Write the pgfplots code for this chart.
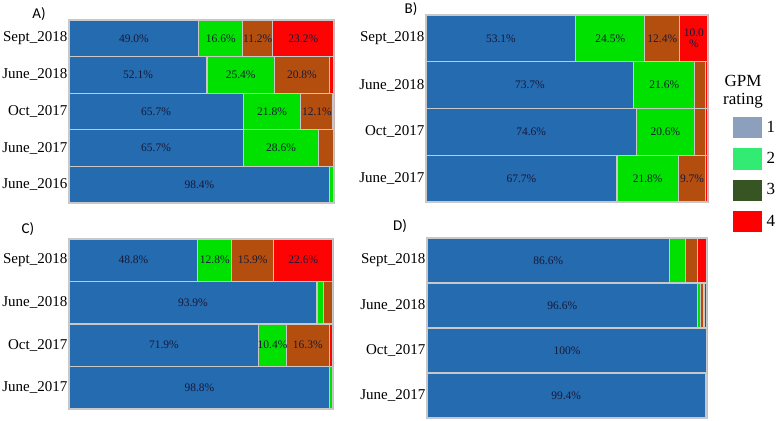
\documentclass[border=0pt]{standalone}
\usepackage{pgfplots}
\pgfplotsset{compat=1.18}
\usepackage{fontspec}
\setmainfont{Liberation Serif}
\newfontfamily\carlito{Carlito}
\definecolor{cBlue}{RGB}{36,107,176}
\definecolor{cGreen}{RGB}{0,225,0}
\definecolor{cBrown}{RGB}{180,78,15}
\definecolor{cRed}{RGB}{252,4,4}
\definecolor{cBorder}{RGB}{200,200,200}
\definecolor{cText}{RGB}{25,25,55}
\definecolor{lOne}{RGB}{140,160,190}
\definecolor{lTwo}{RGB}{50,235,115}
\definecolor{lThree}{RGB}{55,85,35}
\definecolor{lFour}{RGB}{255,0,0}
\newcommand\tenpct{\shortstack{10.0\\\%}}
\pgfplotsset{
  gpm/.style={
    scale only axis,
    xbar stacked,
    bar width=1,
    xmin=0, xmax=100,
    xtick=\empty,
    y dir=reverse,
    axis line style={draw=cBorder, line width=1.5pt},
    major tick length=0pt,
    yticklabel style={font=\fontsize{15}{15}\selectfont, text=black, inner xsep=1.5pt},
    every axis plot/.append style={draw=cBorder, line width=1.2pt},
    nodes near coords,
    point meta=explicit symbolic,
    every node near coord/.append style={anchor=center, font=\fontsize{11.5}{12.5}\selectfont, text=cText, inner sep=0pt},
  },
  row4/.style={ymin=-0.5, ymax=3.5, ytick={0,1,2,3},
    yticklabels={Sept\_2018, June\_2018, Oct\_2017, June\_2017}},
}
\begin{document}
\begin{tikzpicture}[x=1pt,y=1pt]
\path (0,0) rectangle (778,-420);
% Panel A
\begin{axis}[gpm, at={(69pt,-20pt)}, anchor=north west, width=265pt, height=183pt,
  ymin=-0.5, ymax=4.5, ytick={0,1,2,3,4},
  yticklabels={Sept\_2018, June\_2018, Oct\_2017, June\_2017, June\_2016}]
\addplot[fill=cBlue] coordinates {(49.0,0) [49.0\%] (52.1,1) [52.1\%] (65.7,2) [65.7\%] (65.7,3) [65.7\%] (98.4,4) [98.4\%]};
\addplot[fill=cGreen] coordinates {(16.6,0) [16.6\%] (25.4,1) [25.4\%] (21.8,2) [21.8\%] (28.6,3) [28.6\%] (1.6,4) []};
\addplot[fill=cBrown] coordinates {(11.2,0) [11.2\%] (20.8,1) [20.8\%] (12.1,2) [12.1\%] (5.7,3) [] (0,4) []};
\addplot[fill=cRed] coordinates {(23.2,0) [23.2\%] (1.7,1) [] (0.4,2) [] (0,3) [] (0,4) []};
\end{axis}
% Panel B
\begin{axis}[gpm, row4, at={(426pt,-15pt)}, anchor=north west, width=282pt, height=187pt,
  legend style={at={(axis description cs:1.089,0.455)}, anchor=north west, draw=none, fill=none,
    inner sep=0pt, row sep=10pt, font=\fontsize{17}{17}\selectfont,
    nodes={inner sep=0pt}},
  legend cell align=left]
\addlegendimage{legend image code/.code={\fill[lOne] (0pt,-10pt) rectangle (27pt,10pt);}}
\addlegendimage{legend image code/.code={\fill[lTwo] (0pt,-10pt) rectangle (27pt,10pt);}}
\addlegendimage{legend image code/.code={\fill[lThree] (0pt,-10pt) rectangle (27pt,10pt);}}
\addlegendimage{legend image code/.code={\fill[lFour] (0pt,-10pt) rectangle (27pt,10pt);}}
\addplot[fill=cBlue] coordinates {(53.1,0) [53.1\%] (73.7,1) [73.7\%] (74.6,2) [74.6\%] (67.7,3) [67.7\%]};
\addplot[fill=cGreen] coordinates {(24.5,0) [24.5\%] (21.6,1) [21.6\%] (20.6,2) [20.6\%] (21.8,3) [21.8\%]};
\addplot[fill=cBrown] coordinates {(12.4,0) [12.4\%] (3.7,1) [] (3.8,2) [] (9.7,3) [9.7\%]};
\addplot[fill=cRed] coordinates {(10.0,0) [\tenpct] (1.0,1) [] (1.0,2) [] (0.8,3) []};
\legend{\hspace*{5pt}1,\hspace*{5pt}2,\hspace*{5pt}3,\hspace*{5pt}4}
\end{axis}
% Panel C
\begin{axis}[gpm, row4, at={(69pt,-239pt)}, anchor=north west, width=264pt, height=170pt]
\addplot[fill=cBlue] coordinates {(48.8,0) [48.8\%] (93.9,1) [93.9\%] (71.9,2) [71.9\%] (98.8,3) [98.8\%]};
\addplot[fill=cGreen] coordinates {(12.8,0) [12.8\%] (2.6,1) [] (10.4,2) [10.4\%] (1.2,3) []};
\addplot[fill=cBrown] coordinates {(15.9,0) [15.9\%] (3.5,1) [] (16.3,2) [16.3\%] (0,3) []};
\addplot[fill=cRed] coordinates {(22.5,0) [22.6\%] (0,1) [] (1.4,2) [] (0,3) []};
\end{axis}
% Panel D
\begin{axis}[gpm, row4, at={(427pt,-238pt)}, anchor=north west, width=280pt, height=180pt]
\addplot[fill=cBlue] coordinates {(86.6,0) [86.6\%] (96.6,1) [96.6\%] (100,2) [100\%] (99.4,3) [99.4\%]};
\addplot[fill=cGreen] coordinates {(5.8,0) [] (1.2,1) [] (0,2) [] (0.6,3) []};
\addplot[fill=cBrown] coordinates {(4.3,0) [] (1.1,1) [] (0,2) [] (0,3) []};
\addplot[fill=cRed] coordinates {(3.3,0) [] (1.1,1) [] (0,2) [] (0,3) []};
\end{axis}
% panel letters and legend title
\node[font=\carlito\fontsize{15}{15}\selectfont] at (39,-14) {A)};
\node[font=\carlito\fontsize{15}{15}\selectfont] at (411,-9) {B)};
\node[font=\carlito\fontsize{15}{15}\selectfont] at (28,-229) {C)};
\node[font=\carlito\fontsize{15}{15}\selectfont] at (400,-226) {D)};
\node[align=center, font=\fontsize{17}{18}\selectfont, inner sep=0pt] at (743,-92) {GPM\\rating};
\pgfresetboundingbox
\path (0,0) rectangle (778,-420);
\end{tikzpicture}
\end{document}
